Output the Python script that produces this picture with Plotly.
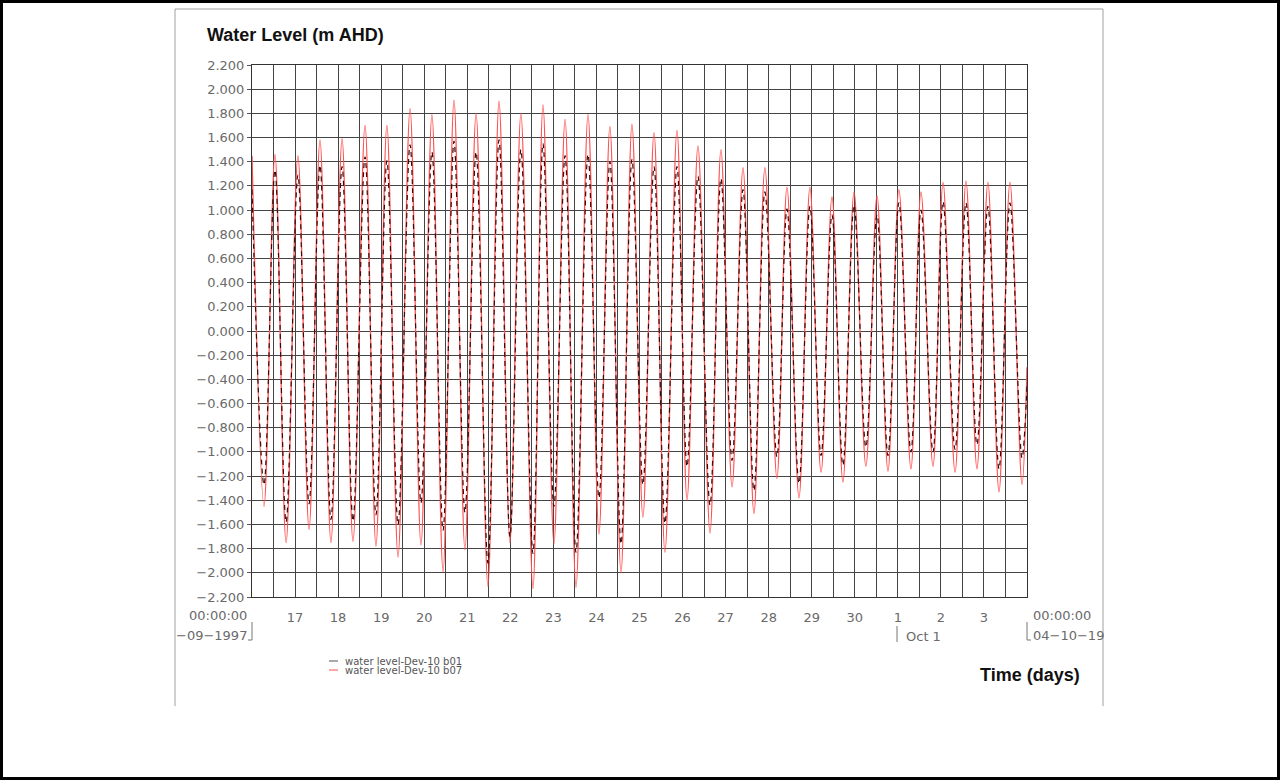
import pandas as pd
import plotly.graph_objects as go

# ---- data ----
start = pd.Timestamp("1997-09-16 00:00:00")

# times of high water (hours since start) and levels
peak_hours = [0.0, 12.8, 25.6, 37.9, 50.2, 63.0, 75.2, 88.1, 100.3, 112.6, 124.9, 137.7,
              149.9, 162.2, 174.5, 187.3, 199.5, 211.8, 224.1, 236.9, 248.6, 261.4,
              273.7, 285.9, 298.2, 311.0, 323.3, 335.6, 348.4, 360.6, 372.9, 385.2,
              398.0, 410.2, 422.5]
b07_peaks = [1.45, 1.46, 1.45, 1.58, 1.59, 1.70, 1.70, 1.84, 1.79, 1.91, 1.80, 1.90,
             1.80, 1.87, 1.75, 1.79, 1.69, 1.71, 1.64, 1.66, 1.53, 1.50, 1.35, 1.35,
             1.19, 1.19, 1.11, 1.15, 1.12, 1.17, 1.15, 1.23, 1.24, 1.23, 1.23]
b01_peaks = [1.17, 1.33, 1.29, 1.37, 1.36, 1.44, 1.41, 1.54, 1.48, 1.57, 1.48, 1.58,
             1.50, 1.55, 1.45, 1.46, 1.40, 1.42, 1.36, 1.36, 1.28, 1.26, 1.17, 1.15,
             1.01, 1.03, 0.96, 1.04, 0.96, 1.06, 1.00, 1.07, 1.06, 1.03, 1.06]

# times of low water (hours since start) and levels
trough_hours = [6.7, 19.0, 31.8, 44.0, 56.3, 69.1, 81.4, 94.2, 106.5, 118.7, 131.5, 143.8,
                156.6, 168.3, 180.6, 193.4, 205.7, 217.9, 230.2, 242.5, 255.3, 267.6,
                279.8, 292.6, 304.9, 317.2, 329.4, 342.2, 354.5, 367.3, 379.6, 391.9,
                404.1, 416.4, 429.2]
b07_troughs = [-1.45, -1.75, -1.64, -1.75, -1.74, -1.78, -1.87, -1.77, -1.99, -1.81, -2.11,
               -1.75, -2.13, -1.76, -2.12, -1.68, -2.00, -1.54, -1.83, -1.40, -1.67, -1.29,
               -1.51, -1.22, -1.38, -1.17, -1.25, -1.12, -1.16, -1.14, -1.12, -1.17, -1.14,
               -1.33, -1.27]
b01_troughs = [-1.27, -1.58, -1.43, -1.56, -1.57, -1.52, -1.60, -1.42, -1.65, -1.50, -1.92,
               -1.70, -1.84, -1.45, -1.83, -1.38, -1.76, -1.27, -1.59, -1.12, -1.44, -1.07,
               -1.32, -1.04, -1.26, -1.03, -1.11, -0.96, -1.03, -1.00, -1.00, -0.98, -0.94,
               -1.14, -1.05]

end_hours = [432.0]
b07_end = [-0.30]
b01_end = [-0.45]

y_ticks = [-2.2, -2.0, -1.8, -1.6, -1.4, -1.2, -1.0, -0.8, -0.6, -0.4, -0.2, 0.0,
           0.2, 0.4, 0.6, 0.8, 1.0, 1.2, 1.4, 1.6, 1.8, 2.0, 2.2]
day_ticks = ["1997-09-17", "1997-09-18", "1997-09-19", "1997-09-20", "1997-09-21",
             "1997-09-22", "1997-09-23", "1997-09-24", "1997-09-25", "1997-09-26",
             "1997-09-27", "1997-09-28", "1997-09-29", "1997-09-30", "1997-10-01",
             "1997-10-02", "1997-10-03"]
day_labels = ["17", "18", "19", "20", "21", "22", "23", "24", "25", "26", "27", "28",
              "29", "30", "1", "2", "3"]

series_names = ["water level-Dev-10 b01", "water level-Dev-10 b07"]

# ---- assemble series ----
df = pd.DataFrame({
    "h": peak_hours + trough_hours + end_hours,
    "b01": b01_peaks + b01_troughs + b01_end,
    "b07": b07_peaks + b07_troughs + b07_end,
}).sort_values("h")
df["t"] = start + pd.to_timedelta(df["h"], unit="h")

# ---- layout geometry (pixels) ----
W, H = 1280, 780
L, R, T, B = 252, 1027, 65, 597
def px(x):
    return (x - L) / (R - L)
def py(y):
    return (B - y) / (B - T)

fig = go.Figure()
fig.add_trace(go.Scatter(x=df["t"], y=df["b07"], mode="lines", name=series_names[1],
                         line=dict(color="rgb(255,80,80)", width=1.3, shape="spline", smoothing=1.0),
                         showlegend=False, hoverinfo="skip"))
fig.add_trace(go.Scatter(x=df["t"], y=df["b01"], mode="lines", name=series_names[0],
                         line=dict(color="rgb(60,10,10)", width=1.2, shape="spline", smoothing=1.0,
                                   dash="5px,4px"),
                         showlegend=False, hoverinfo="skip"))

def fmt(v):
    s = f"{abs(v):.3f}"
    return ("\u2212" + s) if v < -1e-9 else s

tick_font = dict(family="DejaVu Sans", size=13, color="#6a6a6a")
grid_col = "#444"

fig.update_layout(
    width=W, height=H,
    margin=dict(l=L, r=W - R, t=T, b=H - B, pad=0),
    paper_bgcolor="white", plot_bgcolor="white",
    showlegend=False,
    xaxis=dict(
        type="date", range=["1997-09-16", "1997-10-04"],
        tickvals=day_ticks, ticktext=day_labels, tickfont=tick_font,
        showgrid=True, gridcolor=grid_col, gridwidth=1.2,
        minor=dict(dtick=12 * 3600 * 1000, tick0="1997-09-16", showgrid=True,
                   gridcolor=grid_col, gridwidth=1.2),
        ticks="", ticklen=0, showline=True, linecolor="#333", linewidth=1, mirror=True,
        zeroline=False, ticklabelstandoff=8,
    ),
    yaxis=dict(
        range=[-2.2, 2.2], tickvals=y_ticks, ticktext=[fmt(v) for v in y_ticks],
        tickfont=tick_font, showgrid=True, gridcolor=grid_col, gridwidth=1.2,
        ticks="outside", ticklen=4, tickcolor="#555",
        showline=True, linecolor="#333", linewidth=1, mirror=True, zeroline=False,
    ),
)

shapes = []
# outer black frame
shapes.append(dict(type="rect", xref="paper", yref="paper",
                   x0=px(1.5), x1=px(W - 1.5), y0=py(1.5), y1=py(H - 1.5),
                   line=dict(color="black", width=3), layer="below"))
# inner panel lines
for (xa, ya, xb, yb) in [(175, 9, 1103, 9), (175, 9, 175, 706), (1103, 9, 1103, 706)]:
    shapes.append(dict(type="line", xref="paper", yref="paper",
                       x0=px(xa), y0=py(ya), x1=px(xb), y1=py(yb),
                       line=dict(color="#a0a0a0", width=1)))
# start / end brackets and Oct 1 marker
for (xa, ya, xb, yb) in [(252, 622, 252, 640), (248, 640, 252, 640),
                         (1027, 622, 1027, 640), (1027, 640, 1031, 640),
                         (897, 626, 897, 642)]:
    shapes.append(dict(type="line", xref="paper", yref="paper",
                       x0=px(xa), y0=py(ya), x1=px(xb), y1=py(yb),
                       line=dict(color="#777", width=1)))
# legend sample lines
shapes.append(dict(type="line", xref="paper", yref="paper",
                   x0=px(329), y0=py(661), x1=px(338), y1=py(661),
                   line=dict(color="#555", width=1)))
shapes.append(dict(type="line", xref="paper", yref="paper",
                   x0=px(329), y0=py(670), x1=px(338), y1=py(670),
                   line=dict(color="rgb(255,80,80)", width=1)))
fig.update_layout(shapes=shapes)

def ann(x, y, text, xanchor="left", font=None):
    fig.add_annotation(x=px(x), y=py(y), xref="paper", yref="paper", text=text,
                       showarrow=False, xanchor=xanchor, yanchor="middle",
                       font=font or tick_font)

title_font = dict(family="Liberation Sans", size=18, color="#111")
ann(205, 35, "<b>Water Level (m AHD)</b>", font=title_font)
ann(978, 675, "<b>Time (days)</b>", font=title_font)
ann(249, 615, "00:00:00", xanchor="right")
ann(249, 635, "\u221209\u22121997", xanchor="right")
ann(1031, 615, "00:00:00")
ann(1031, 635, "04\u221210\u221219")
ann(904, 636, "Oct 1")
leg_font = dict(family="DejaVu Sans", size=10, color="#555")
ann(343, 661, series_names[0], font=leg_font)
ann(343, 670, series_names[1], font=leg_font)

fig.write_html("out.html", config={"displayModeBar": False},
               post_script="document.body.style.margin='0';document.body.style.overflow='hidden';")
